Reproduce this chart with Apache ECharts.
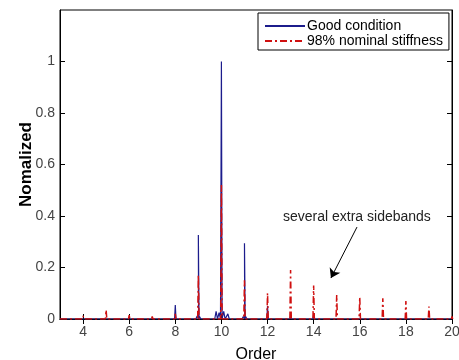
<!DOCTYPE html>
<html>
<head>
<meta charset="utf-8">
<script src="https://cdn.jsdelivr.net/npm/echarts@6/dist/echarts.min.js"></script>
<style>
  html, body { margin: 0; padding: 0; background: #fff; }
  #chart { width: 459px; height: 360px; }
</style>
</head>
<body>
<div id="chart"></div>
<script>
// harmonic orders and normalized amplitudes
const orders = [4, 5, 6, 7, 8, 9, 10, 11, 12, 13, 14, 15, 16, 17, 18, 19, 20]
const goodAmp = [0.003, 0.002, 0.003, 0.002, 0.054, 0.326, 1.0, 0.294, 0.05, 0.01, 0.02, 0.005, 0.005, 0.003, 0.003, 0.003, 0.003]
const stiffAmp = [0.012, 0.035, 0.015, 0.01, 0.02, 0.17, 0.52, 0.15, 0.10, 0.19, 0.13, 0.093, 0.085, 0.08, 0.07, 0.048, 0.01]
// small blue sidebands around order 10
const sideOrders = [8.95, 9.05, 9.77, 9.9, 10.1, 10.28, 10.95, 11.05]
const sideAmp = [0.012, 0.01, 0.03, 0.025, 0.03, 0.02, 0.01, 0.01]

const xTicks = [4, 6, 8, 10, 12, 14, 16, 18, 20]
const yTicks = [0, 0.2, 0.4, 0.6, 0.8, 1]

const arrowFrom = [15.88, 0.357]
const arrowTo = [14.75, 0.159]

function spikes(xs, hs, extraX, extraH) {
  const pk = xs.map((x, i) => [x, hs[i], 0.03])
  if (extraX) extraX.forEach((x, i) => pk.push([x, extraH[i], 0.06]))
  pk.sort((a, b) => a[0] - b[0])
  const out = [[3, 0]]
  pk.forEach(p => {
    out.push([p[0] - p[2], 0], [p[0], p[1]], [p[0] + p[2], 0])
  })
  out.push([20, 0])
  return out
}

const font = 'Liberation Sans, Arial, sans-serif'
const tickStyle = { inside: true, length: 5, lineStyle: { color: '#000' } }

const chart = echarts.init(document.getElementById('chart'))
chart.setOption({
  backgroundColor: '#fff',
  animation: false,
  textStyle: { fontFamily: font },
  grid: {
    left: 60, top: 10, right: 7, bottom: 41,
    outerBoundsMode: 'none',
    show: true, borderColor: '#000', borderWidth: 1
  },
  legend: {
    orient: 'vertical',
    left: 258,
    top: 13,
    padding: [6, 6, 2, 6],
    itemGap: 1,
    itemWidth: 40,
    itemHeight: 12,
    borderColor: '#000',
    borderWidth: 1,
    backgroundColor: '#fff',
    itemStyle: { opacity: 0 },
    textStyle: { fontSize: 14, color: '#000', fontFamily: font, padding: [0, 0, 0, -3] },
    data: ['Good condition', '98% nominal stiffness']
  },
  xAxis: [
    {
      type: 'value',
      min: 3,
      max: 20,
      name: 'Order',
      nameLocation: 'middle',
      nameGap: 28,
      nameMoveOverlap: false,
      nameTextStyle: { fontSize: 16, color: '#000' },
      axisLine: { lineStyle: { color: '#000' } },
      axisTick: Object.assign({ customValues: xTicks }, tickStyle),
      axisLabel: { customValues: xTicks, fontSize: 14, color: '#444', margin: 6 },
      splitLine: { show: false }
    },
    {
      type: 'value',
      position: 'top',
      min: 3,
      max: 20,
      axisLine: { lineStyle: { color: '#000' } },
      axisTick: Object.assign({ customValues: xTicks }, tickStyle),
      axisLabel: { show: false },
      splitLine: { show: false }
    }
  ],
  yAxis: [
    {
      type: 'value',
      min: 0,
      max: 1.2,
      name: 'Nomalized',
      nameLocation: 'middle',
      nameGap: 25,
      nameMoveOverlap: false,
      nameTextStyle: { fontSize: 17, fontWeight: 'bold', color: '#000' },
      axisLine: { lineStyle: { color: '#000' } },
      axisTick: Object.assign({ customValues: yTicks }, tickStyle),
      axisLabel: { customValues: yTicks, fontSize: 14, color: '#444', margin: 5 },
      splitLine: { show: false }
    },
    {
      type: 'value',
      position: 'right',
      min: 0,
      max: 1.2,
      axisLine: { lineStyle: { color: '#000' } },
      axisTick: Object.assign({ customValues: yTicks }, tickStyle),
      axisLabel: { show: false },
      splitLine: { show: false }
    }
  ],
  graphic: [
    {
      type: 'text',
      left: 283,
      top: 210,
      style: { text: 'several extra sidebands', fill: '#222', font: '14px ' + font }
    }
  ],
  series: [
    {
      name: 'Good condition',
      type: 'line',
      symbol: 'none',
      color: '#1c1c8c',
      lineStyle: { width: 1.2, color: '#1c1c8c' },
      data: spikes(orders, goodAmp, sideOrders, sideAmp)
    },
    {
      name: '98% nominal stiffness',
      type: 'line',
      symbol: 'none',
      color: '#d01010',
      lineStyle: { width: 1.5, color: '#d01010', type: [7, 3, 2, 3] },
      data: spikes(orders, stiffAmp),
      markLine: {
        silent: true,
        symbol: ['none', 'arrow'],
        symbolSize: 9,
        label: { show: false },
        lineStyle: { color: '#000', width: 1, type: 'solid' },
        data: [[{ coord: arrowFrom }, { coord: arrowTo }]]
      }
    }
  ]
})
</script>
</body>
</html>
